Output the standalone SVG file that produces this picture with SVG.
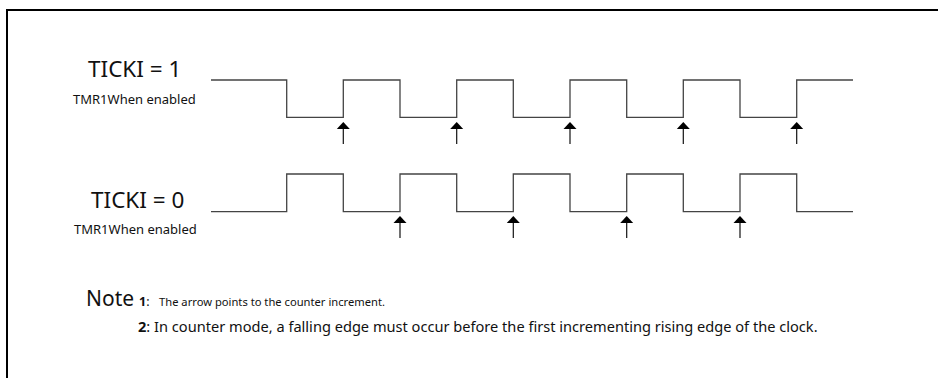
<svg xmlns="http://www.w3.org/2000/svg" width="938" height="378" viewBox="0 0 938 378">
<style>
text{font-family:"Noto Sans","Open Sans","DejaVu Sans",sans-serif;fill:#111}
.big{font-size:22.5px}
.sub{font-size:13px}
.wave{fill:none;stroke:#444;stroke-width:1.3}
.arr{stroke:#111;stroke-width:1.2}
.head{fill:#000}
</style>
<defs>
<g id="arrow">
<polygon class="head" points="0,0 -6.5,7 6.5,7"/>
<line class="arr" x1="0" y1="7" x2="0" y2="22"/>
</g>
</defs>
<rect x="7" y="10" width="940" height="380" fill="none" stroke="#000" stroke-width="2"/>
<g id="ticki1">
<text class="big" x="88" y="77">TICKI = 1</text>
<text class="sub" x="73" y="104">TMR1When enabled</text>
</g>
<g id="ticki0">
<text class="big" x="91" y="208">TICKI = 0</text>
<text class="sub" x="74" y="234">TMR1When enabled</text>
</g>
<g id="connectors">
<path class="wave" d="M211,80 H286.7 V117.3 H343.3 V80 H400 V117.3 H456.7 V80 H513.3 V117.3 H570 V80 H626.7 V117.3 H683.3 V80 H740 V117.3 H796.7 V80 H853"/>
<path class="wave" d="M211,211.7 H286.7 V174 H343.3 V211.7 H400 V174 H456.7 V211.7 H513.3 V174 H570 V211.7 H626.7 V174 H683.3 V211.7 H740 V174 H796.7 V211.7 H853"/>
<use href="#arrow" x="343.3" y="122"/>
<use href="#arrow" x="456.7" y="122"/>
<use href="#arrow" x="570" y="122"/>
<use href="#arrow" x="683.3" y="122"/>
<use href="#arrow" x="796.7" y="122"/>
<use href="#arrow" x="400" y="216"/>
<use href="#arrow" x="513.3" y="216"/>
<use href="#arrow" x="626.7" y="216"/>
<use href="#arrow" x="740" y="216"/>
</g>
<g id="note">
<text x="86" y="306" style="font-size:21px">Note</text>
<text x="139" y="306" style="font-size:12.5px"><tspan font-weight="bold">1</tspan>:  <tspan x="159" style="font-size:11.2px">The arrow points to the counter increment.</tspan></text>
<text x="138" y="332" style="font-size:14.6px"><tspan font-weight="bold">2</tspan>: In counter mode, a falling edge must occur before the first incrementing rising edge of the clock.</text>
</g>
</svg>
